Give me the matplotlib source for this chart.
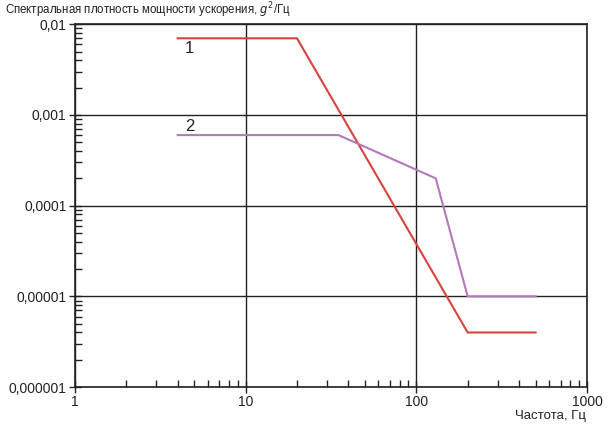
import matplotlib.pyplot as plt
import matplotlib.ticker as mticker
import numpy as np

plt.rcParams['font.family'] = ['Liberation Sans', 'DejaVu Sans']

# curve 1
freq1 = [4, 20, 200, 500]
psd1 = [0.007, 0.007, 4e-6, 4e-6]
# curve 2
freq2 = [4, 35, 130, 200, 500]
psd2 = [6e-4, 6e-4, 2e-4, 1e-5, 1e-5]

yticks = [1e-6, 1e-5, 1e-4, 1e-3, 1e-2]
ytick_labels = ['0,000001', '0,00001', '0,0001', '0,001', '0,01']
xticks = [1, 10, 100, 1000]
xtick_labels = ['1', '10', '100', '1000']

fig = plt.figure(figsize=(6.14, 4.33), dpi=100)
ax = fig.add_axes([0.122, 0.106, 0.834, 0.838])

ax.set_xscale('log')
ax.set_yscale('log')
ax.set_xlim(1, 1000)
ax.set_ylim(1e-6, 1e-2)

ax.grid(True, which='major', color='#222222', linewidth=1.0)
ax.set_axisbelow(True)

ax.plot(freq1, psd1, color='#d8423c', linewidth=1.5)
ax.plot(freq2, psd2, color='#b27ab6', linewidth=1.5)

ax.text(4.4, 0.0054, '1', fontsize=12, color='#222222', va='center')
ax.text(4.4, 0.00074, '2', fontsize=12, color='#222222', va='center')

ax.set_xticks(xticks)
ax.set_xticklabels(xtick_labels)
ax.set_yticks(yticks)
ax.set_yticklabels(ytick_labels)
ax.xaxis.set_minor_locator(mticker.LogLocator(base=10, subs=np.arange(2, 10), numticks=20))
ax.yaxis.set_minor_locator(mticker.LogLocator(base=10, subs=np.arange(2, 10), numticks=20))
ax.xaxis.set_minor_formatter(mticker.NullFormatter())
ax.yaxis.set_minor_formatter(mticker.NullFormatter())

ax.tick_params(which='major', direction='inout', length=8, width=1, labelsize=10,
               colors='#222222', pad=2)
ax.tick_params(which='minor', direction='in', length=5, width=1, color='#222222')

for s in ax.spines.values():
    s.set_color('#222222')
    s.set_linewidth(1.2)

fig.text(0.008, 0.999, 'Спектральная плотность мощности ускорения, $g^2$/Гц',
         fontsize=8.3, color='#222222', ha='left', va='top')
fig.text(0.955, 0.052, 'Частота, Гц', fontsize=9.5, color='#222222', ha='right', va='top')

fig.savefig('out.png', dpi=100)
